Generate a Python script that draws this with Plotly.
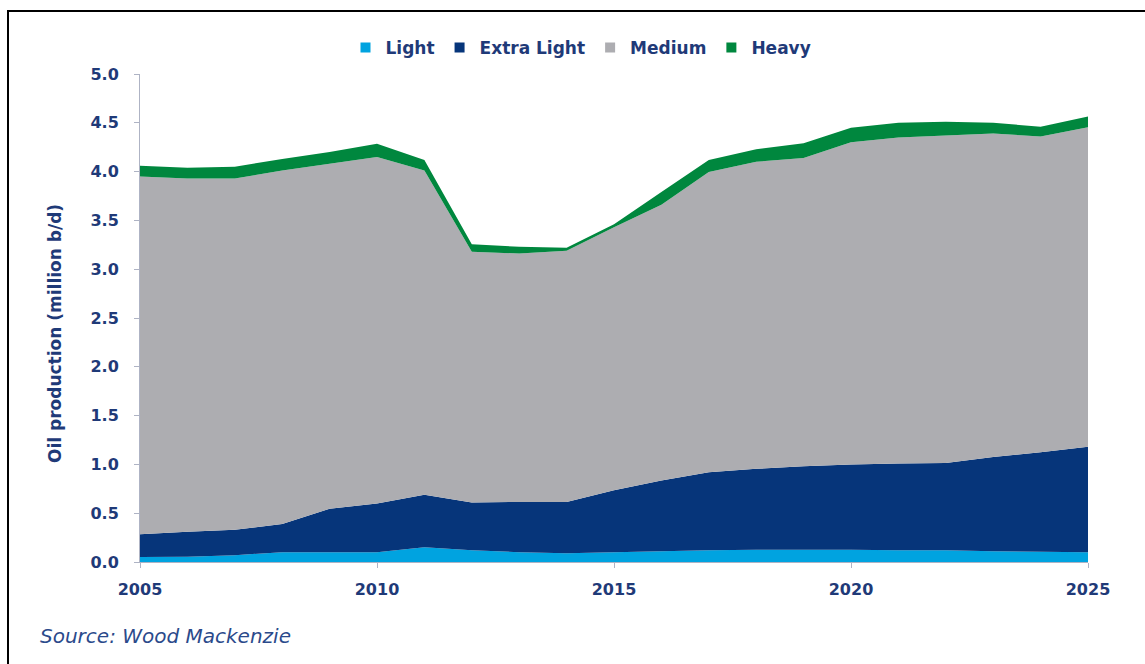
import plotly.graph_objects as go

years = list(range(2005, 2026))
light = [0.05, 0.055, 0.07, 0.10, 0.10, 0.10, 0.15, 0.12, 0.10, 0.09, 0.10,
         0.11, 0.12, 0.125, 0.125, 0.125, 0.12, 0.12, 0.11, 0.105, 0.10]
extra_light = [0.235, 0.255, 0.26, 0.29, 0.445, 0.50, 0.54, 0.49, 0.515, 0.525, 0.635,
               0.725, 0.80, 0.83, 0.855, 0.875, 0.89, 0.895, 0.965, 1.02, 1.08]
medium = [3.665, 3.62, 3.60, 3.62, 3.535, 3.55, 3.32, 2.57, 2.545, 2.575, 2.695,
          2.825, 3.075, 3.145, 3.16, 3.30, 3.34, 3.355, 3.315, 3.235, 3.275]
heavy = [0.11, 0.11, 0.12, 0.12, 0.12, 0.135, 0.11, 0.075, 0.07, 0.03, 0.03,
         0.13, 0.125, 0.13, 0.15, 0.15, 0.15, 0.14, 0.11, 0.10, 0.11]

series_names = ["Light", "Extra Light", "Medium", "Heavy"]
series_colors = ["#00a3e0", "#06357a", "#adadb1", "#00873e"]
series_values = [light, extra_light, medium, heavy]

y_ticks = [0.0, 0.5, 1.0, 1.5, 2.0, 2.5, 3.0, 3.5, 4.0, 4.5, 5.0]
x_ticks = [2005, 2010, 2015, 2020, 2025]

text_color = "#1f3a78"

fig = go.Figure()
for name, color, vals in zip(series_names, series_colors, series_values):
    fig.add_trace(go.Scatter(
        x=years, y=vals, stackgroup="one", mode="none",
        fillcolor=color, line=dict(width=0), name=name, showlegend=False,
        hoverinfo="x+y+name",
    ))
# legend-only square markers
for name, color in zip(series_names, series_colors):
    fig.add_trace(go.Scatter(
        x=[None], y=[None], mode="markers", name=name,
        marker=dict(symbol="square", size=10, color=color),
    ))

W, H = 1145, 664
L, R, T, B = 140, 57, 74, 102
pw, ph = W - L - R, H - T - B

def px(xp):
    return (xp - L) / pw

def py(yp):
    return (H - B - yp) / ph

fig.update_layout(
    width=W, height=H,
    margin=dict(l=L, r=R, t=T, b=B),
    paper_bgcolor="white", plot_bgcolor="white",
    font=dict(family="DejaVu Sans", size=16, color=text_color),
    legend=dict(
        orientation="h", x=px(581), y=py(48), xanchor="center", yanchor="middle",
        traceorder="normal",
        font=dict(family="DejaVu Sans", size=17, color=text_color, weight="bold"),
        itemwidth=30, tracegroupgap=0, bgcolor="rgba(0,0,0,0)",
    ),
    xaxis=dict(
        range=[2005, 2025], tickvals=x_ticks, ticktext=[str(v) for v in x_ticks],
        showgrid=False, zeroline=False, showline=True, linecolor="#aeb3c4", linewidth=1,
        ticks="outside", ticklen=5, tickcolor="#aeb3c4",
        tickfont=dict(family="DejaVu Sans", size=16, color=text_color, weight="bold"),
        ticklabelstandoff=8,
    ),
    yaxis=dict(
        range=[0, 5], tickvals=y_ticks, ticktext=[f"{v:.1f}" for v in y_ticks],
        showgrid=False, zeroline=False, showline=True, linecolor="#aeb3c4", linewidth=1,
        ticks="outside", ticklen=5, tickcolor="#aeb3c4",
        tickfont=dict(family="DejaVu Sans", size=16, color=text_color, weight="bold"),
        ticklabelstandoff=12,
    ),
    annotations=[
        dict(text="Oil production (million b/d)", textangle=-90,
             x=px(55), y=py(334), xref="paper", yref="paper",
             xanchor="center", yanchor="middle", showarrow=False,
             font=dict(family="DejaVu Sans", size=17, color=text_color, weight="bold")),
        dict(text="<i>Source: Wood Mackenzie</i>",
             x=px(38), y=py(636), xref="paper", yref="paper",
             xanchor="left", yanchor="middle", showarrow=False,
             font=dict(family="DejaVu Sans", size=20, color="#2b4a8b")),
    ],
    shapes=[
        dict(type="rect", xref="paper", yref="paper",
             x0=px(8), y0=py(11), x1=px(1200), y1=py(720),
             line=dict(color="black", width=2), fillcolor="rgba(0,0,0,0)", layer="above"),
    ],
)

fig.write_html("out.html")
